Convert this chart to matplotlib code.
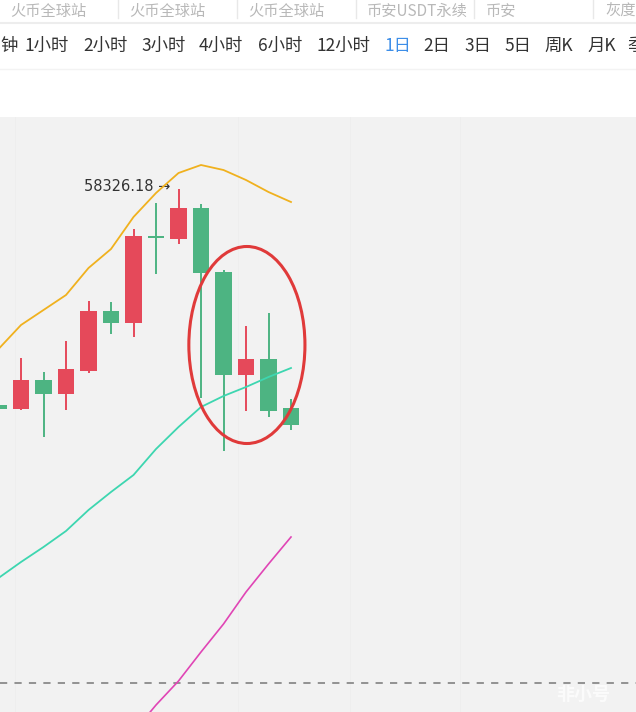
import numpy as np
import matplotlib.pyplot as plt
from matplotlib.patches import Ellipse

plt.rcParams['font.family'] = ['Noto Sans CJK SC', 'DejaVu Sans']

# 日K数据 (开, 高, 低, 收)
opens = [47340, 47137, 48612, 47900, 49069, 52121, 51511, 55936, 55783, 57360, 54105, 48866, 49680, 47188]
highs = [47400, 49731, 49019, 50595, 52630, 52579, 56292, 57614, 58326.18, 57563, 54206, 51359, 52020, 47646]
lows = [47100, 47086, 45713, 47086, 48968, 50952, 50799, 54003, 55529, 47696, 45001, 47035, 46730, 46069]
closes = [47137, 48612, 47900, 49171, 52121, 51511, 55936, 55834, 57360, 54054, 48866, 49680, 47035, 46323]

# 均线
ma_yellow = [50188, 51409, 52172, 52935, 54308, 55274, 56902, 58123, 59140, 59547, 59292, 58784, 58173, 57665]
ma_teal = [38541, 39355, 40118, 40932, 42000, 42915, 43780, 45102, 46221, 47239, 47798, 48256, 48764, 49222]
ma_pink_start = 6
ma_pink = [30709, 32082, 33303, 34778, 36202, 37829, 39254, 40627]
dash_price = 33200

periods = ['钟', '1小时', '2小时', '3小时', '4小时', '6小时', '12小时', '1日', '2日', '3日', '5日', '周K', '月K', '季']
period_x = [0, 25, 83, 141, 199, 258, 316, 384, 423, 464, 504, 544, 587, 627]
exchanges = ['火币全球站', '火币全球站', '火币全球站', '币安USDT永续', '币安', '灰度']

W, H = 636, 712
fig = plt.figure(figsize=(W / 100, H / 100), dpi=100)
fig.patch.set_facecolor('white')

# 顶部交易所栏
for i, name in enumerate(exchanges):
    fig.text((10 + 119 * i) / W, 1 - 11 / H, name, fontsize=11, color='#b8b8b8', va='center', ha='left')
for i in range(1, 6):
    fig.add_artist(plt.Line2D([(118.5 * i) / W] * 2, [1, 1 - 18 / H], color='#e8e8e8', lw=1))
fig.add_artist(plt.Line2D([0, 1], [1 - 23 / H] * 2, color='#ededed', lw=1.5))

# 周期栏
for lab, px in zip(periods, period_x):
    fig.text(px / W, 1 - 46 / H, lab, fontsize=12.5, va='center', ha='left',
             color='#3d8ee8' if lab == '1日' else '#333333')
fig.add_artist(plt.Line2D([0, 1], [1 - 69 / H] * 2, color='#f3f3f3', lw=1))

# K线区域
top_px = 117
ax = fig.add_axes([0, 0, 1, (H - top_px) / H])
ax.set_facecolor('#f2f2f2')
step = 22.5
x0 = -1.5
ax.set_xlim(-x0 / step, (W - x0) / step)
scale = 50.86
ax.set_ylim(58326.18 - (H - 189) * scale, 58326.18 + (189 - top_px) * scale)
for s in ax.spines.values():
    s.set_visible(False)
ax.set_xticks([])
ax.set_yticks([])

for gx in [15, 238, 350, 460]:
    ax.axvline((gx - x0) / step, color='#eeeeee', lw=0.7, zorder=0)

red, green = '#e5495a', '#4db482'
idx = np.arange(len(opens))
for i in idx:
    c = red if closes[i] >= opens[i] else green
    ax.vlines(i, lows[i], highs[i], color=c, lw=1.4, zorder=2)
    bottom = min(opens[i], closes[i])
    h = max(abs(closes[i] - opens[i]), 90)
    ax.bar(i, h, bottom=bottom, width=0.73, color=c, zorder=3)

ax.plot(idx, ma_yellow, color='#f0b11e', lw=1.3, zorder=4)
ax.plot(idx, ma_teal, color='#3dd6b0', lw=1.3, zorder=4)
ax.plot(idx[ma_pink_start:], ma_pink, color='#e045b5', lw=1.2, zorder=4)
ax.axhline(dash_price, color='#8a8a8a', lw=1.3, ls=(0, (4, 4)), zorder=1)

# 最高价标注
imax = int(np.argmax(highs))
ax.annotate(f'{highs[imax]:.2f} →', xy=(imax, highs[imax]), xytext=(-6, 2),
            textcoords='offset points', ha='right', va='center', fontsize=10.5,
            color='#333333', family=['DejaVu Sans'])

# 红圈
ax.add_patch(Ellipse((11.04, 50392), 5.16, 10020, fill=False, ec='#e03a3a', lw=2.2, zorder=5))

# 水印
fig.text(583 / W, 18 / H, '非小号', fontsize=13, color='white', alpha=0.7,
         ha='center', va='center', fontweight='bold')

fig.savefig('out.png', dpi=100)
